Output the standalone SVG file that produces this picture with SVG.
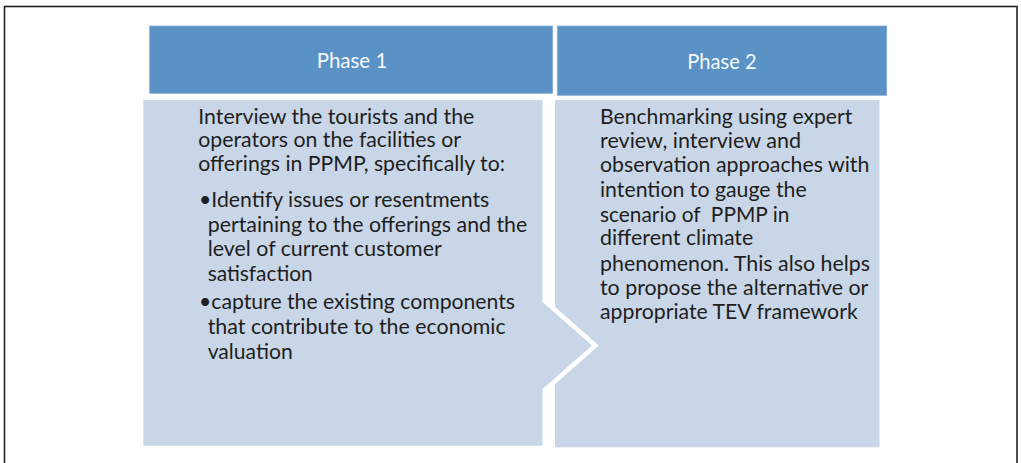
<svg xmlns="http://www.w3.org/2000/svg" width="1021" height="463" viewBox="0 0 1021 463">
  <style>
    .frame { fill: #ffffff; stroke: #222222; stroke-width: 1.6; }
    .head { fill: #5B92C6; stroke: #86AEDA; stroke-width: 0.8; }
    .head-label { font-family: Lato, "Open Sans", "Liberation Sans", sans-serif; font-size: 21px; fill: #F4F8FC; text-anchor: middle; }
    .body { fill: #C9D6E7; }
    .chevron { fill: #C9D6E7; stroke: #ffffff; stroke-width: 9; stroke-linejoin: miter; stroke-miterlimit: 10; paint-order: stroke; }
    .txt { font-family: Lato, "Open Sans", "Liberation Sans", sans-serif; font-size: 21px; fill: #1E1E1E; }
  </style>

  <!-- outer frame -->
  <rect class="frame" x="4.5" y="6.5" width="1012.5" height="480"/>

  <!-- Phase 2 -->
  <g id="phase2">
    <rect class="head" x="557.3" y="26" width="329.4" height="69.3"/>
    <text class="head-label" x="722" y="69" textLength="69.3" lengthAdjust="spacingAndGlyphs">Phase 2</text>
    <rect class="body" x="555" y="100" width="324.5" height="347.3"/>
  </g>

  <!-- Phase 1 (its arrow point cuts into the Phase 2 panel) -->
  <g id="phase1">
    <rect class="head" x="149.7" y="26" width="403" height="67.3"/>
    <text class="head-label" x="352" y="68" textLength="70.6" lengthAdjust="spacingAndGlyphs">Phase 1</text>
    <polygon class="chevron" points="143.3,100 542.5,100 542.5,302 592,345.5 542.5,389 542.5,445.7 143.3,445.7"/>
  </g>

  <!-- Phase 1 text -->
  <g id="phase1-text" class="txt">
    <text x="198.3" y="124" textLength="276" lengthAdjust="spacingAndGlyphs">Interview the tourists and the</text>
    <text x="198.3" y="147" textLength="262.7" lengthAdjust="spacingAndGlyphs">operators on the facilities or</text>
    <text x="198.3" y="170.5" textLength="306.7" lengthAdjust="spacingAndGlyphs">offerings in PPMP, specifically to:</text>
    <text x="199" y="207" textLength="290.3" lengthAdjust="spacingAndGlyphs">•Identify issues or resentments</text>
    <text x="207.7" y="231.5" textLength="319.6" lengthAdjust="spacingAndGlyphs">pertaining to the offerings and the</text>
    <text x="207.7" y="256" textLength="234" lengthAdjust="spacingAndGlyphs">level of current customer</text>
    <text x="207.7" y="281" textLength="105" lengthAdjust="spacingAndGlyphs">satisfaction</text>
    <text x="199" y="309" textLength="316" lengthAdjust="spacingAndGlyphs">•capture the existing components</text>
    <text x="207.7" y="334" textLength="298" lengthAdjust="spacingAndGlyphs">that contribute to the economic</text>
    <text x="207.7" y="358.5" textLength="85" lengthAdjust="spacingAndGlyphs">valuation</text>
  </g>

  <!-- Phase 2 text -->
  <g id="phase2-text" class="txt">
    <text x="600" y="124.3" textLength="252.3" lengthAdjust="spacingAndGlyphs">Benchmarking using expert</text>
    <text x="600" y="147.5" textLength="201" lengthAdjust="spacingAndGlyphs">review, interview and</text>
    <text x="600" y="171.8" textLength="269.3" lengthAdjust="spacingAndGlyphs">observation approaches with</text>
    <text x="600" y="197" textLength="206.7" lengthAdjust="spacingAndGlyphs">intention to gauge the</text>
    <text x="600" y="221.5" textLength="189.3" lengthAdjust="spacingAndGlyphs" xml:space="preserve">scenario of  PPMP in</text>
    <text x="600" y="244.5" textLength="153.3" lengthAdjust="spacingAndGlyphs">different climate</text>
    <text x="600" y="270.5" textLength="270" lengthAdjust="spacingAndGlyphs">phenomenon. This also helps</text>
    <text x="600" y="294.5" textLength="268.3" lengthAdjust="spacingAndGlyphs">to propose the alternative or</text>
    <text x="600" y="319" textLength="257.7" lengthAdjust="spacingAndGlyphs">appropriate TEV framework</text>
  </g>
</svg>
